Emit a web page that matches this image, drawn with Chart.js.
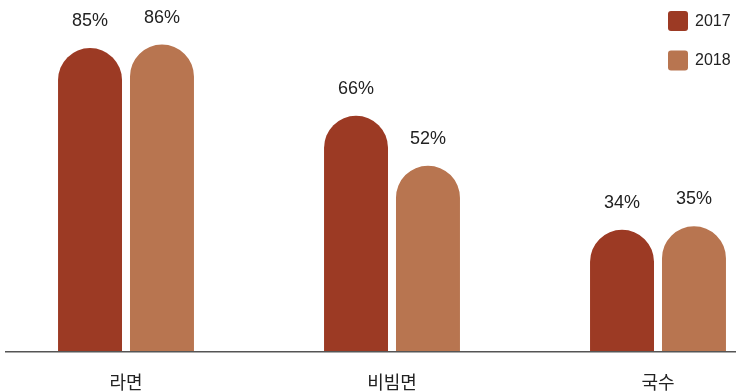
<!DOCTYPE html>
<html lang="ko">
<head>
<meta charset="utf-8">
<title>라면 · 비빔면 · 국수</title>
<script src="https://cdn.jsdelivr.net/npm/chart.js@4.4.1/dist/chart.umd.min.js"></script>
<style>
  html, body { margin: 0; padding: 0; background: #fff; overflow: hidden; }
  body { width: 736px; height: 392px; position: relative; }
  /* the plot is a bit wider than the window so the groups sit where they should */
  #wrap { position: absolute; left: -7px; top: 0; width: 798px; height: 392px; }
</style>
</head>
<body>
<div id="wrap"><canvas id="chart"></canvas></div>
<script>
// 데이터
const categories = ['라면', '비빔면', '국수'];
const seriesNames = ['2017', '2018'];
const values2017 = [85, 66, 34];
const values2018 = [86, 52, 35];

const SHIFT = 7; // canvas offset against the page
const colors = ['#9c3a24', '#b87550'];
const textColor = '#222';

// 막대 위 퍼센트 + 범례 + 축선
const decorations = {
    id: 'decorations',
    afterDatasetsDraw(chart) {
        const ctx = chart.ctx;
        ctx.save();

        // 축선
        const yBase = chart.scales.y.getPixelForValue(0);
        ctx.strokeStyle = '#555';
        ctx.lineWidth = 1.5;
        ctx.beginPath();
        ctx.moveTo(5 + SHIFT, yBase + 0.75);
        ctx.lineTo(736 + SHIFT, yBase + 0.75);
        ctx.stroke();

        // 값 라벨
        ctx.fillStyle = textColor;
        ctx.font = '18px "Liberation Sans", Arial, sans-serif';
        ctx.textAlign = 'center';
        ctx.textBaseline = 'middle';
        chart.data.datasets.forEach((ds, i) => {
            chart.getDatasetMeta(i).data.forEach((bar, j) => {
                ctx.fillText(ds.data[j] + '%', bar.x, bar.y - 27);
            });
        });

        // 범례
        ctx.font = '16px "Liberation Sans", Arial, sans-serif';
        ctx.textAlign = 'left';
        chart.data.datasets.forEach((ds, i) => {
            const x = 668 + SHIFT, y = 11 + i * 39.5;
            ctx.fillStyle = ds.backgroundColor;
            ctx.beginPath();
            ctx.roundRect(x, y, 20, 20, 3);
            ctx.fill();
            ctx.fillStyle = textColor;
            ctx.fillText(ds.label, x + 27, y + 10.5);
        });
        ctx.restore();
    }
};

new Chart(document.getElementById('chart'), {
    type: 'bar',
    data: {
        labels: categories,
        datasets: [
            { label: seriesNames[0], data: values2017, backgroundColor: colors[0] },
            { label: seriesNames[1], data: values2018, backgroundColor: colors[1] }
        ]
    },
    options: {
        responsive: true, maintainAspectRatio: false,
        animation: false,
        layout: { padding: 0 },
        datasets: {
            bar: {
                categoryPercentage: 0.541,
                barPercentage: 0.889,
                borderRadius: 40,
                borderSkipped: 'start'
            }
        },
        scales: {
            x: {
                offset: true,
                grid: { display: false, drawTicks: false },
                border: { display: false },
                ticks: {
                    color: textColor,
                    padding: 20,
                    font: { family: '"Noto Sans CJK KR", sans-serif', size: 18 }
                },
                afterFit(scale) { scale.height = 41; }
            },
            y: {
                display: false,
                min: 0, max: 98.5
            }
        },
        plugins: { legend: { display: false }, tooltip: { enabled: false } }
    },
    plugins: [decorations]
});
</script>
</body>
</html>
